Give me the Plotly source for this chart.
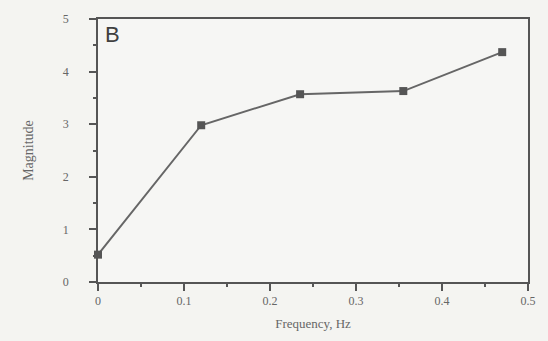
import plotly.graph_objects as go

# Spectrum magnitude at sampled frequencies
frequency_hz = [0.0, 0.12, 0.235, 0.355, 0.47]
magnitude = [0.52, 2.98, 3.57, 3.63, 4.37]

x_ticks = [0, 0.1, 0.2, 0.3, 0.4, 0.5]
x_tick_text = ["0", "0.1", "0.2", "0.3", "0.4", "0.5"]
y_ticks = [0, 1, 2, 3, 4, 5]
y_tick_text = ["0", "1", "2", "3", "4", "5"]

ink = "#555555"
serif = "Liberation Serif, DejaVu Serif, serif"

fig = go.Figure()
fig.add_trace(go.Scatter(
    x=frequency_hz,
    y=magnitude,
    mode="lines+markers",
    line=dict(color="#666666", width=2),
    marker=dict(symbol="square", size=8, color="#555555"),
    cliponaxis=False,
    showlegend=False,
))

axis_common = dict(
    showline=True,
    linecolor=ink,
    linewidth=1.5,
    mirror=True,
    showgrid=False,
    zeroline=False,
    ticks="outside",
    ticklen=7,
    tickwidth=1.5,
    tickcolor=ink,
    tickfont=dict(family=serif, size=12, color="#666666"),
)

fig.update_xaxes(
    range=[0, 0.5],
    tickvals=x_ticks,
    ticktext=x_tick_text,
    minor=dict(dtick=0.05, ticks="outside", ticklen=3, tickcolor=ink, tickwidth=1.5),
    title=dict(text="Frequency, Hz", font=dict(family=serif, size=13, color="#666666"), standoff=12),
    **axis_common,
)
fig.update_yaxes(
    range=[0, 5],
    tickvals=y_ticks,
    ticktext=y_tick_text,
    minor=dict(dtick=0.5, ticks="outside", ticklen=3, tickcolor=ink, tickwidth=1.5),
    title=dict(text="Magnitude", font=dict(family=serif, size=14, color="#666666"), standoff=26),
    ticklabelstandoff=18,
    **axis_common,
)

fig.add_annotation(
    text="B",
    xref="paper", yref="paper",
    x=0.012, y=0.995,
    xanchor="left", yanchor="top",
    showarrow=False,
    font=dict(family="Liberation Sans, Arial, sans-serif", size=22, color="#404040"),
)

fig.update_layout(
    width=548,
    height=341,
    margin=dict(l=98, r=13, t=16, b=58),
    paper_bgcolor="#f4f4f1",
    plot_bgcolor="#f6f6f4",
)

fig.write_html("out.html")
